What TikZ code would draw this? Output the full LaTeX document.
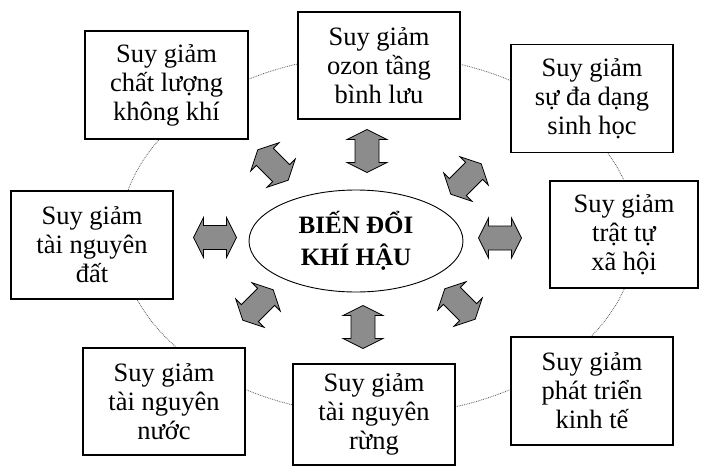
\documentclass[tikz,border=0pt]{standalone}
\usepackage{fontspec}
\setmainfont{Liberation Serif}
\usetikzlibrary{shapes.geometric}

\definecolor{arrowgray}{gray}{0.55}
\definecolor{ringgray}{gray}{0.35}

\tikzset{
  box/.style={draw=black, line width=1.1pt, fill=white, align=center,
    inner sep=0pt, minimum width=162pt, minimum height=108pt,
    font=\fontsize{26.5}{29}\selectfont},
  core/.style={draw=black, line width=0.9pt, fill=white, ellipse,
    minimum width=214pt, minimum height=102pt, inner sep=0pt, align=center,
    font=\fontsize{25}{32}\selectfont\bfseries},
  ring/.style={ringgray, densely dotted, line width=0.8pt},
  twoway/.pic={
    \draw[fill=arrowgray, draw=black, line width=0.8pt, line join=miter]
      (21.5,0) -- (11.5,20) -- (11.5,12) -- (-11.5,12) -- (-11.5,20)
      -- (-21.5,0) -- (-11.5,-20) -- (-11.5,-12) -- (11.5,-12)
      -- (11.5,-20) -- cycle;
  }
}

\begin{document}
\begin{tikzpicture}[x=1pt, y=-1pt]
  \useasboundingbox (0,0) rectangle (702,466);

  % dotted ring linking the outer boxes
  \draw[ring] (378,235) ellipse [x radius=258, y radius=180];

  % centre
  \node[core] (ce) at (356,241) {BIẾN ĐỔI\\KHÍ HẬU};

  % outer boxes
  \node[box, minimum width=163pt] (b1) at (166.5,85) {Suy giảm\\chất lượng\\không khí};
  \node[box, minimum width=162pt, minimum height=107pt] (b2) at (379,65.5) {Suy giảm\\ozon tầng\\bình lưu};
  \node[box] (b3) at (592,98.5) {Suy giảm\\sự đa dạng\\sinh học};
  \node[box, minimum width=148pt, minimum height=107pt] (b4) at (624,234.5) {Suy giảm\\trật tự\\xã hội};
  \node[box] (b5) at (592,391) {Suy giảm\\phát triển\\kinh tế};
  \node[box, minimum height=101pt] (b6) at (374,414.5) {Suy giảm\\tài nguyên\\rừng};
  \node[box, minimum width=162pt, minimum height=107pt] (b7) at (164,401.5) {Suy giảm\\tài nguyên\\nước};
  \node[box] (b8) at (92,245) {Suy giảm\\tài nguyên\\đất};

  % two-way block arrows between the centre and each box
  \pic[rotate=90]  at (367,151) {twoway};
  \pic[rotate=90]  at (363,327) {twoway};
  \pic             at (215,237.5) {twoway};
  \pic             at (500,238) {twoway};
  \pic[rotate=-45] at (273,165) {twoway};
  \pic[rotate=45]  at (466,179) {twoway};
  \pic[rotate=45]  at (258,305) {twoway};
  \pic[rotate=-45] at (460,304) {twoway};
\end{tikzpicture}
\end{document}
